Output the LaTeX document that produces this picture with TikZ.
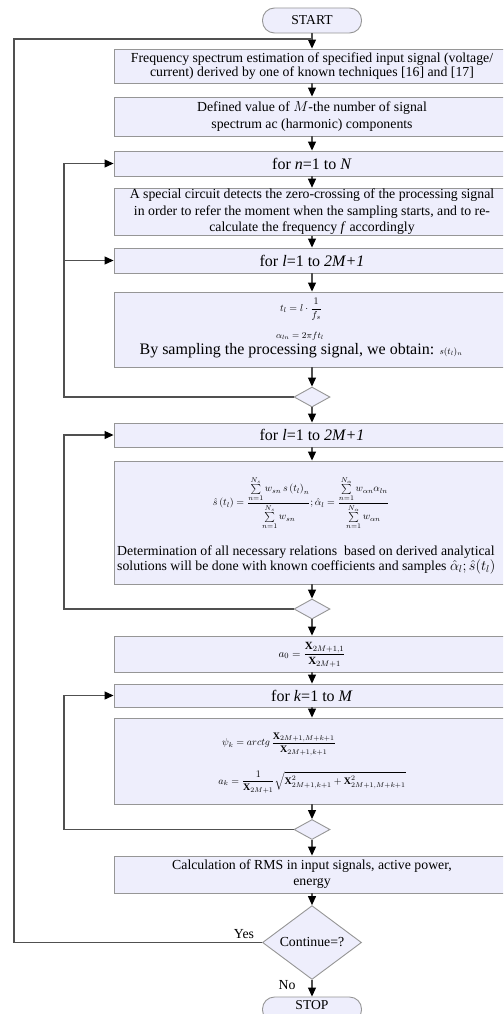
\documentclass[tikz,border=0pt]{standalone}
\usepackage{amsmath}
\usepackage{fontspec}
\setmainfont{Liberation Serif}
\usetikzlibrary{arrows.meta,shapes.geometric}
\definecolor{boxfill}{RGB}{238,238,252}
\definecolor{boxline}{RGB}{150,150,150}
\definecolor{conn}{RGB}{80,80,80}
\begin{document}
\begin{tikzpicture}[x=1pt,y=-1pt,
 procbox/.style={draw=boxline, fill=boxfill, line width=0.9pt, minimum width=396pt, inner sep=1pt, align=center, font=\fontsize{13.8}{16}\selectfont},
 term/.style={draw=boxline, fill=boxfill, line width=0.9pt, rounded corners=12pt, minimum width=99pt, minimum height=25pt, font=\fontsize{13.6}{15}\selectfont},
 decis/.style={diamond, draw=boxline, fill=boxfill, line width=0.9pt, inner sep=0pt},
 flow/.style={draw=conn, line width=1.1pt, -{Triangle[length=9pt,width=8pt,color=black]}},
 plain/.style={draw=conn, line width=1.1pt},
 looptxt/.style={font=\fontsize{16}{18}\selectfont},
 mathtxt/.style={inner sep=0pt, font=\fontsize{10}{12}\selectfont},
 lbl/.style={inner sep=0pt, font=\fontsize{13.8}{15}\selectfont}
]
\clip (0,0) rectangle (503,1014);
\fill[white] (0,0) rectangle (503,1014);

\coordinate (L0) at (14,0);
\coordinate (L1) at (64,0);

\node[term] (start) at (312,20.5) {START};
\node[procbox, minimum height=34pt, font=\fontsize{13.8}{14}\selectfont] (b1) at (312,66) {Frequency spectrum estimation of specified input signal (voltage/\\current) derived by one of known techniques [16] and [17]};
\node[procbox, minimum height=39pt, font=\fontsize{13.8}{17}\selectfont] (b2) at (312,116.5) {Defined value of $M$-the number of signal\\spectrum ac (harmonic) components};
\node[procbox, looptxt, minimum height=25pt] (bn) at (312,163.5) {for \textit{n}=1 to \textit{N}};
\node[procbox, minimum height=46pt, font=\fontsize{13.8}{16.5}\selectfont] (bc) at (312,212) {A special circuit detects the zero-crossing of the processing signal\\in order to refer the moment when the sampling starts, and to re-\\calculate the frequency \textit{f} accordingly};
\node[procbox, looptxt, minimum height=25pt] (bl1) at (312,260.5) {for \textit{l}=1 to \textit{2M+1}};
\node[procbox, minimum height=75pt] (bf1) at (312,329.5) {};
\node[mathtxt] (f1a) at (301,309) {$\displaystyle t_l = l\cdot\frac{1}{f_s}$};
\node[mathtxt, font=\fontsize{9}{10}\selectfont] (f1b) at (300,336) {$\alpha_{ln} = 2\pi f t_l$};
\node[inner sep=0pt, looptxt, anchor=base] (f1c) at (301,354) {By sampling the processing signal, we obtain: {\fontsize{9}{10}\selectfont$s(t_l)_n$}};
\node[decis, minimum width=36pt, minimum height=20pt] (d1) at (312,397) {};
\node[procbox, looptxt, minimum height=24pt] (bl2) at (312,435) {for \textit{l}=1 to \textit{2M+1}};
\node[procbox, minimum height=123pt] (bf2) at (312,522.5) {};
\node[mathtxt] (f2) at (301,503) {$\displaystyle \hat{s}\left(t_l\right)=\frac{\sum\limits_{n=1}^{N_s} w_{sn}\,s\left(t_l\right)_n}{\sum\limits_{n=1}^{N_s} w_{sn}};\hat{\alpha}_l=\frac{\sum\limits_{n=1}^{N_\alpha} w_{\alpha n}\alpha_{ln}}{\sum\limits_{n=1}^{N_\alpha} w_{\alpha n}}$};
\node[inner sep=0pt, anchor=west, align=left, font=\fontsize{13.8}{15}\selectfont] (f2t) at (117,559.5) {Determination of all necessary relations\ \ based on derived analytical\\solutions will be done with known coefficients and samples $\hat{\alpha}_l;\hat{s}(t_l)$};
\node[decis, minimum width=36pt, minimum height=20pt] (d2) at (312,609) {};
\node[procbox, minimum height=36pt] (ba0) at (312,654) {};
\node[mathtxt, font=\fontsize{11}{13}\selectfont] (f3) at (312,655) {$\displaystyle a_0=\frac{\mathbf{X}_{2M+1,1}}{\mathbf{X}_{2M+1}}$};
\node[procbox, looptxt, minimum height=23pt] (bk) at (312,695.5) {for \textit{k}=1 to \textit{M}};
\node[procbox, minimum height=86pt] (bf3) at (312,761) {};
\node[mathtxt] (f4a) at (279,744) {$\displaystyle \psi_k = arctg\,\frac{\mathbf{X}_{2M+1,M+k+1}}{\mathbf{X}_{2M+1,k+1}}$};
\node[mathtxt] (f4b) at (312,782) {$\displaystyle a_k=\frac{1}{\mathbf{X}_{2M+1}}\sqrt{\mathbf{X}^2_{2M+1,k+1}+\mathbf{X}^2_{2M+1,M+k+1}}$};
\node[decis, minimum width=36pt, minimum height=20pt] (d3) at (312,829.5) {};
\node[procbox, minimum height=37pt] (bcalc) at (312,874.5) {Calculation of RMS in input signals, active power,\\energy};
\node[decis, minimum width=99pt, minimum height=73pt, font=\fontsize{13.8}{15}\selectfont] (dc) at (312,942.5) {Continue=?};
\node[term] (stop) at (312,1009.5) {};
\node[inner sep=0pt, font=\fontsize{13.6}{15}\selectfont] (stoptxt) at (312,1005) {STOP};
\node[lbl, anchor=base] (yes) at (244,938) {Yes};
\node[lbl, anchor=base] (no) at (287,989) {No};

\coordinate (J) at (312,39);

% main flow
\draw[flow] (start) -- (b1);
\draw[flow] (b1) -- (b2);
\draw[flow] (b2) -- (bn);
\draw[flow] (bn) -- (bc);
\draw[flow] (bc) -- (bl1);
\draw[flow] (bl1) -- (bf1);
\draw[flow] (bf1) -- (d1);
\draw[flow] (d1) -- (bl2);
\draw[flow] (bl2) -- (bf2);
\draw[flow] (bf2) -- (d2);
\draw[flow] (d2) -- (ba0);
\draw[flow] (ba0) -- (bk);
\draw[flow] (bk) -- (bf3);
\draw[flow] (bf3) -- (d3);
\draw[flow] (d3) -- (bcalc);
\draw[flow] (bcalc) -- (dc);
\draw[flow] (dc) -- (stop);

% loops
\draw[flow] (d1.west) -- (d1.west -| L1) |- (bn.west);
\draw[flow] (bl1.west -| L1) -- (bl1.west);
\draw[flow] (d2.west) -- (d2.west -| L1) |- (bl2.west);
\draw[flow] (d3.west) -- (d3.west -| L1) |- (bk.west);
\draw[plain] (dc.west) -- (dc.west -| L0) |- (J);
\end{tikzpicture}
\end{document}
